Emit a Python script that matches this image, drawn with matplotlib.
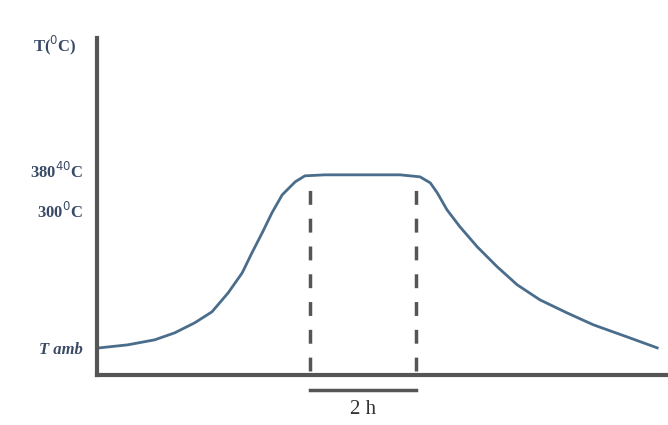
import matplotlib.pyplot as plt

# schematic heat-treatment profile: time in hours, temperature in arbitrary schematic units
time_h = [0.05, 0.57, 1.07, 1.44, 1.81, 2.13, 2.43, 2.69, 2.87, 3.06, 3.24, 3.43, 3.67, 3.85, 4.22,
          5.0, 5.61, 5.98, 6.17, 6.30, 6.48, 6.72, 7.04, 7.41, 7.78, 8.20, 8.70, 9.19, 9.81, 10.37]
temp = [27, 30, 35, 42, 52, 63, 82, 102, 122, 142, 162, 180, 193, 199, 200,
        200, 200, 198, 192, 182, 165, 148, 128, 108, 90, 75, 62, 50, 38, 27]

hold_start, hold_end = 3.95, 5.9
ytick_pos = [27, 165, 205]
ytick_labels = ["T amb", "300$^0$C", "380$^{40}$C"]

plt.rcParams['font.family'] = ['Liberation Serif', 'DejaVu Serif']
fig = plt.figure(figsize=(6.68, 4.25), dpi=100)
ax = fig.add_axes([0.145, 0.118, 0.855, 0.793])

ax.plot(time_h, temp, color='#4a6d8c', linewidth=2.0)
for x in (hold_start, hold_end):
    ax.plot([x, x], [4, 190], color='#555555', linewidth=2.5, linestyle=(0, (4, 4)))

ax.set_xlim(0, 10.57)
ax.set_ylim(0, 337)
ax.spines['top'].set_visible(False)
ax.spines['right'].set_visible(False)
for s in ('left', 'bottom'):
    ax.spines[s].set_linewidth(3)
    ax.spines[s].set_color('#555555')
ax.set_xticks([])
ax.set_yticks(ytick_pos)
ax.set_yticklabels(ytick_labels, fontsize=12, fontweight='bold', color='#3a4a66')
ax.get_yticklabels()[0].set_fontstyle('italic')
ax.tick_params(axis='y', length=0, pad=10)

# 2 h bar below the axis
ax.plot([hold_start, hold_end], [-15, -15], color='#555555', linewidth=2.5, clip_on=False)
ax.text((hold_start + hold_end) / 2, -25, "2 h", ha='center', va='top', fontsize=15,
        color='#333333')

fig.text(0.05, 0.893, "T($^0$C)", fontsize=12, fontweight='bold', color='#3a4a66', va='center')

fig.savefig("out.png", dpi=100)
